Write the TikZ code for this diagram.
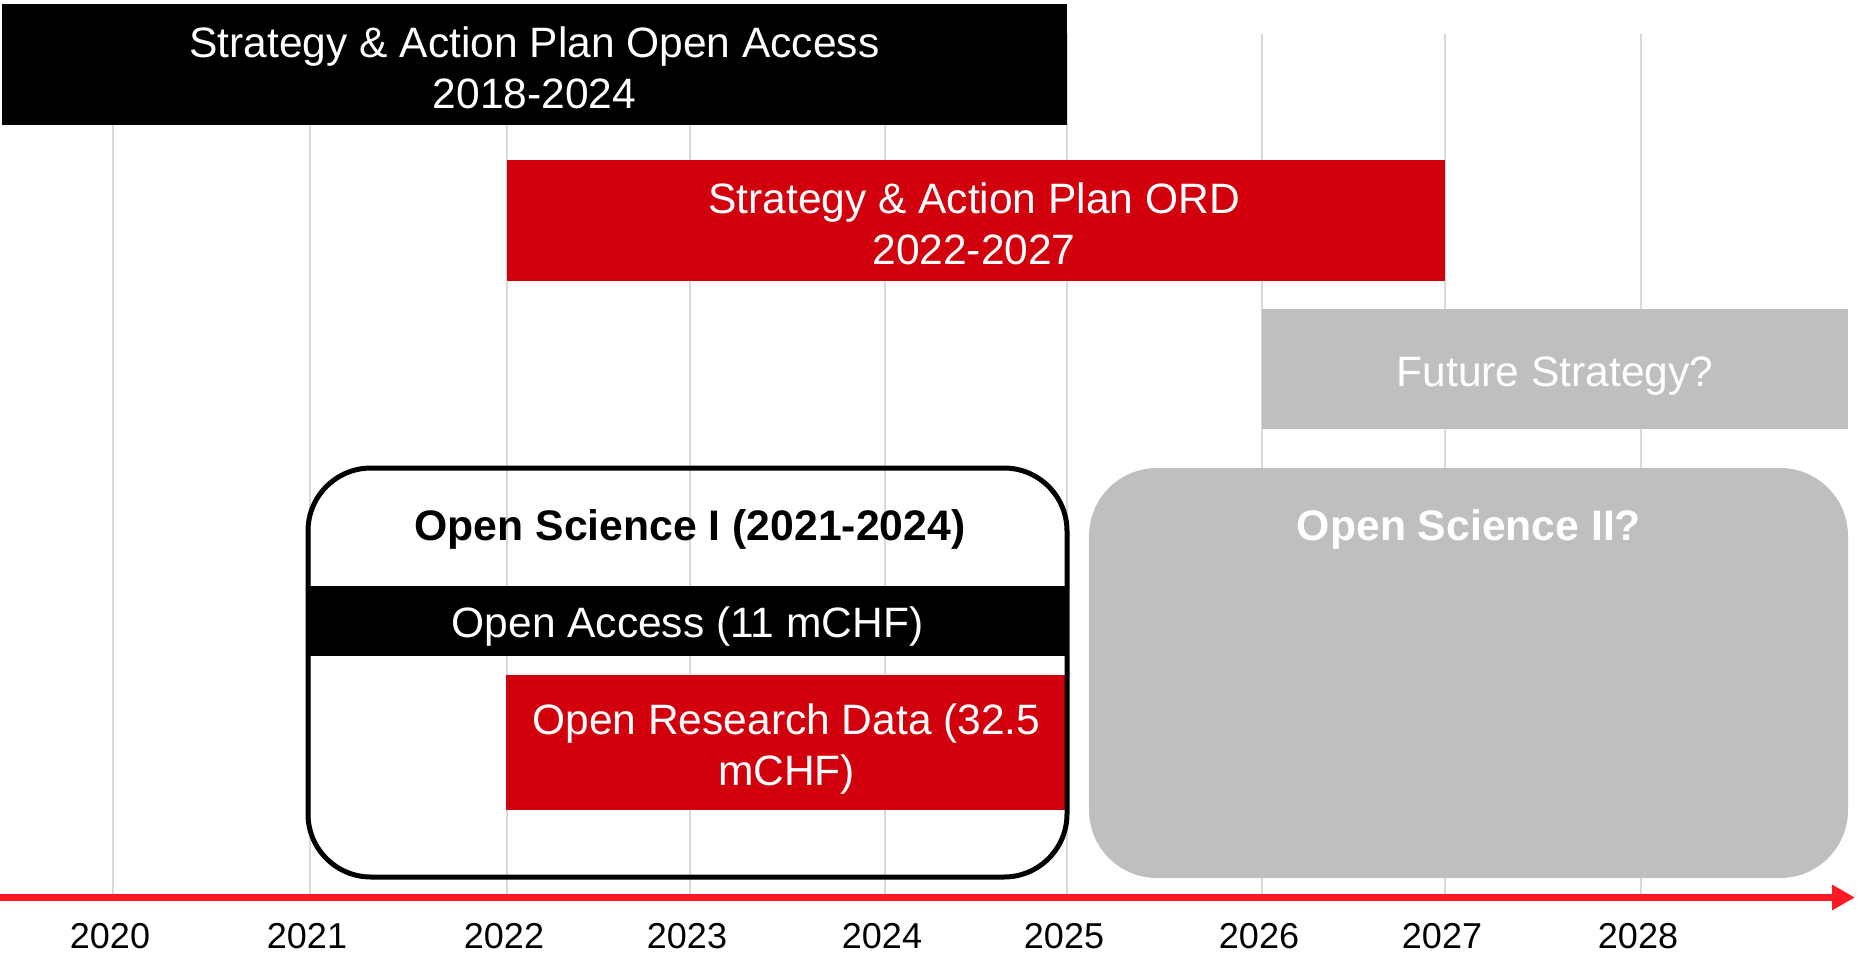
\documentclass[tikz,border=0pt]{standalone}
\usepackage{fontspec}
\setmainfont{Liberation Sans}
\usetikzlibrary{arrows.meta}
\definecolor{ordred}{RGB}{210,0,12}
\definecolor{axisred}{RGB}{255,25,37}
\definecolor{futuregray}{RGB}{191,191,191}
\definecolor{gridgray}{RGB}{217,217,217}

\begin{document}
\begin{tikzpicture}[x=1pt,y=-1pt,
    bar/.style={rectangle,inner sep=0pt},
    bartext/.style={inner sep=0pt,text=white,align=center,font=\fontsize{42.5}{51}\selectfont},
    osbox/.style={rectangle,inner sep=0pt,rounded corners=#1},
    ostitle/.style={anchor=base,inner sep=0pt,font=\bfseries\fontsize{42.7}{51}\selectfont},
    yearline/.style={draw=gridgray,line width=2pt},
    year/.style={anchor=base,inner sep=0pt,font=\fontsize{36}{43}\selectfont}]
      \useasboundingbox (0,0) rectangle (1861,954);
      % year grid
      \draw[yearline] (113,34) -- (113,894); \draw[yearline] (310,34) -- (310,894); \draw[yearline] (507,34) -- (507,894); \draw[yearline] (690,34) -- (690,894); \draw[yearline] (885,34) -- (885,894); \draw[yearline] (1067,34) -- (1067,894); \draw[yearline] (1262,34) -- (1262,894); \draw[yearline] (1445,34) -- (1445,894); \draw[yearline] (1641,34) -- (1641,894);

      % strategy bars
      \node[bar,fill=black,minimum width=1065pt,minimum height=121pt] (sapoa) at (534.5,64.5) {};
      \node[bartext,yshift=-3pt] (sapoat) at (sapoa) {Strategy \& Action Plan Open Access\\2018-2024};
      \node[bar,fill=ordred,minimum width=938pt,minimum height=121pt] (sapord) at (976,220.5) {};
      \node[bartext,yshift=-3pt,xshift=-2pt] (sapordt) at (sapord) {Strategy \& Action Plan ORD\\2022-2027};
      \node[bar,fill=futuregray,minimum width=586pt,minimum height=120pt] (future) at (1555,369) {};
      \node[bartext,yshift=-7pt] (futuret) at (future) {Future Strategy?};

      % programmes
      \node[bar,fill=black,minimum width=759pt,minimum height=70pt] (oafund) at (687.5,621) {};
      \node[bartext,yshift=-6pt] (oafundt) at (oafund) {Open Access (11 mCHF)};
      \node[bar,fill=ordred,minimum width=561pt,minimum height=135pt] (ordfund) at (786.5,742.5) {};
      \node[bartext,yshift=-6pt] (ordfundt) at (ordfund) {Open Research Data (32.5\\mCHF)};
      \node[osbox=63pt,draw=black,line width=5pt,minimum width=759pt,minimum height=409pt] (os1) at (687.5,672.5) {};
      \node[osbox=68pt,fill=futuregray,minimum width=759pt,minimum height=410pt] (os2) at (1468.5,673) {};
      \node[ostitle] (os1t) at (690,540) {Open Science I (2021-2024)};
      \node[ostitle,text=white] (os2t) at (1469,540) {Open Science II?};

      % time axis
      \coordinate (tstart) at (0,897.5); \coordinate (tend) at (1855,897.5);
      \draw[axisred,line width=7pt,-{Triangle[length=23pt,width=24pt]}] (tstart) -- (tend);
      \node[year] (y2020) at (110,948) {2020}; \node[year] (y2021) at (307,948) {2021}; \node[year] (y2022) at (504,948) {2022}; \node[year] (y2023) at (687,948) {2023}; \node[year] (y2024) at (882,948) {2024}; \node[year] (y2025) at (1064,948) {2025}; \node[year] (y2026) at (1259,948) {2026}; \node[year] (y2027) at (1442,948) {2027}; \node[year] (y2028) at (1638,948) {2028};
    \end{tikzpicture}
\end{document}
